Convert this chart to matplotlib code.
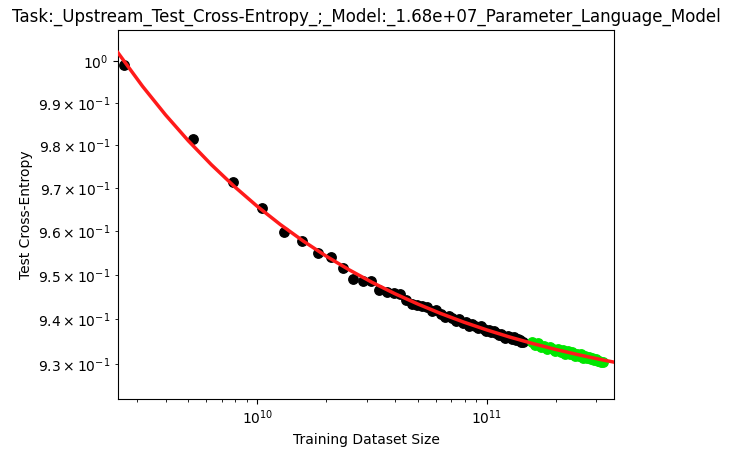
import matplotlib
matplotlib.use('Agg')
import matplotlib.pyplot as plt
import numpy as np

# training dataset sizes (tokens)
x_fit = [2.62e9, 5.24e9, 7.86e9, 1.048e10, 1.31e10, 1.572e10, 1.834e10, 2.096e10,
         2.358e10, 2.62e10, 2.882e10, 3.144e10, 3.406e10, 3.668e10, 3.93e10,
         4.192e10, 4.454e10, 4.716e10, 4.978e10, 5.24e10, 5.502e10, 5.764e10,
         6.026e10, 6.288e10, 6.55e10, 6.812e10, 7.074e10, 7.336e10, 7.598e10,
         7.86e10, 8.122e10, 8.384e10, 8.646e10, 8.908e10, 9.17e10, 9.432e10,
         9.694e10, 9.956e10, 1.0218e11, 1.048e11, 1.0742e11, 1.1004e11,
         1.1266e11, 1.1528e11, 1.179e11, 1.2052e11, 1.2314e11, 1.2576e11,
         1.2838e11, 1.31e11, 1.3362e11, 1.3624e11, 1.3886e11, 1.4148e11, 1.441e11]
y_fit = [0.9991, 0.9814, 0.9714, 0.9653, 0.9598, 0.9578, 0.9549, 0.9540, 0.9515,
         0.9490, 0.9487, 0.9486, 0.9465, 0.9462, 0.9458, 0.9456, 0.9443, 0.9435,
         0.9432, 0.9429, 0.94272, 0.94179, 0.94208, 0.94120, 0.94055, 0.94081,
         0.94029, 0.93969, 0.94000, 0.93922, 0.93926, 0.93851, 0.93897, 0.93844,
         0.93802, 0.93841, 0.93771, 0.93731, 0.93762, 0.93704, 0.93737, 0.93700,
         0.93643, 0.93677, 0.93632, 0.93587, 0.93633, 0.93599, 0.93565, 0.93602,
         0.93529, 0.93557, 0.93525, 0.93483, 0.93481]

x_test = [1.572e11, 1.6244e11, 1.6768e11, 1.7292e11, 1.7816e11, 1.834e11,
          1.8864e11, 1.9388e11, 1.9912e11, 2.0436e11, 2.096e11, 2.1484e11,
          2.2008e11, 2.2532e11, 2.3056e11, 2.358e11, 2.4104e11, 2.4628e11,
          2.5152e11, 2.5676e11, 2.62e11, 2.6724e11, 2.7248e11, 2.7772e11,
          2.8296e11, 2.882e11, 2.9344e11, 2.9868e11, 3.0392e11, 3.0916e11,
          3.144e11, 3.1964e11]
y_test = [0.93488, 0.93418, 0.93460, 0.93372, 0.93405, 0.93328, 0.93382, 0.93337,
          0.93282, 0.93338, 0.93265, 0.93302, 0.93229, 0.93277, 0.93215, 0.93263,
          0.93182, 0.93221, 0.93171, 0.93211, 0.93141, 0.93181, 0.93122, 0.93153,
          0.93104, 0.93126, 0.93077, 0.93099, 0.93061, 0.93073, 0.93045, 0.93048]

x_curve = [2.455e9, 3.162e9, 3.981e9, 5.012e9, 6.310e9, 7.943e9, 1e10, 1.259e10,
           1.585e10, 1.995e10, 2.512e10, 3.162e10, 3.981e10, 5.012e10, 6.310e10,
           7.943e10, 1e11, 1.259e11, 1.585e11, 1.995e11, 2.512e11, 3.162e11, 3.631e11]
y_curve = [1.00216, 0.99392, 0.98715, 0.98100, 0.97542, 0.97035, 0.96574, 0.96156,
           0.95776, 0.95430, 0.95118, 0.94833, 0.94574, 0.94340, 0.94126, 0.93933,
           0.93758, 0.93598, 0.93453, 0.93321, 0.93201, 0.93092, 0.93032]

fig = plt.figure(figsize=(7.31, 4.57), dpi=100)
ax = fig.add_axes([0.1618, 0.1269, 0.6781, 0.8075])
ax.scatter(x_fit, y_fit, s=46, color='black', zorder=2)
ax.scatter(x_test, y_test, s=46, color='#00e600', zorder=2)
ax.plot(x_curve, y_curve, color='#ff1a1a', lw=2.5, zorder=3)
ax.set_xscale('log')
ax.set_yscale('log')
ax.set_xlim(2.48e9, 3.58e11)
ax.set_ylim(0.9222, 1.0074)
ax.set_title('Task:_Upstream_Test_Cross-Entropy_;_Model:_1.68e+07_Parameter_Language_Model')
ax.set_xlabel('Training Dataset Size')
ax.set_ylabel('Test Cross-Entropy')
fig.savefig('out.png', dpi=100)
